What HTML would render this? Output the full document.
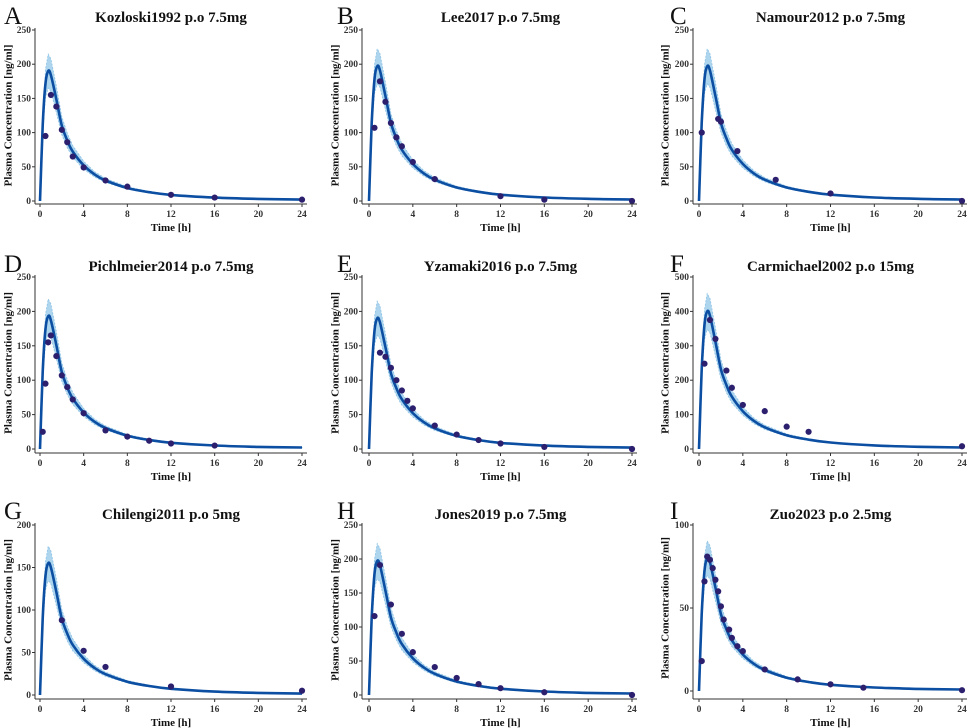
<!DOCTYPE html>
<html><head><meta charset="utf-8"><style>
html,body{margin:0;padding:0;background:#fff;}
svg{display:block;font-family:"Liberation Serif",serif;}
.tk{font-size:9.5px;font-weight:bold;fill:#333;}
.ttl{font-size:15px;font-weight:bold;fill:#111;}
.lab{font-size:11px;font-weight:bold;fill:#111;}
.let{font-size:25px;fill:#111;}
</style></head><body>
<svg id="fig" width="969" height="728" viewBox="0 0 969 728"></svg>
<script>
// ---- data ----
const titles = ["Kozloski1992 p.o 7.5mg","Lee2017 p.o 7.5mg","Namour2012 p.o 7.5mg","Pichlmeier2014 p.o 7.5mg","Yzamaki2016 p.o 7.5mg","Carmichael2002 p.o 15mg","Chilengi2011 p.o 5mg","Jones2019 p.o 7.5mg","Zuo2023 p.o 2.5mg"];
const letters = ["A","B","C","D","E","F","G","H","I"];
const yMaxes = [250,250,250,250,250,500,200,250,100];
const yTickSets = [[0,50,100,150,200,250],[0,50,100,150,200,250],[0,50,100,150,200,250],[0,50,100,150,200,250],[0,50,100,150,200,250],[0,100,200,300,400,500],[0,50,100,150,200],[0,50,100,150,200,250],[0,50,100]];
const xTicks = [0,4,8,12,16,20,24];
const modelTimes = [0,0.25,0.5,0.75,1,1.5,2,2.5,3,4,5,6,8,10,12,16,20,24];
const modelShape = [0,0.58,0.905,1,0.968,0.78,0.58,0.465,0.38,0.275,0.205,0.158,0.1,0.068,0.047,0.026,0.016,0.011];
const peaks = [190,197,197,193,190,400,155,197,80];
const bandFrac = [0,0.10,0.12,0.13,0.13,0.13,0.12,0.12,0.12,0.11,0.1,0.1,0.09,0.09,0.09,0.09,0.09,0.09];
const obsT = [
 [0.5,1,1.5,2,2.5,3,4,6,8,12,16,24],
 [0.5,1,1.5,2,2.5,3,4,6,12,16,24],
 [0.25,1.75,2,3.5,7,12,24],
 [0.25,0.5,0.75,1,1.5,2,2.5,3,4,6,8,10,12,16],
 [1,1.5,2,2.5,3,3.5,4,6,8,10,12,16,24],
 [0.5,1,1.5,2.5,3,4,6,8,10,24],
 [2,4,6,12,24],
 [0.5,1,2,3,4,6,8,10,12,16,24],
 [0.25,0.5,0.75,1,1.25,1.5,1.75,2,2.25,2.75,3,3.5,4,6,9,12,15,24]];
const obsC = [
 [95,155,138,104,86,65,49,30,21,9,5,2],
 [107,175,145,114,93,80,57,32,7,2,0],
 [100,120,116,73,31,11,0],
 [25,95,155,165,135,107,90,72,52,27,18,12,8,5],
 [140,134,118,100,85,70,59,34,21,13,8,3,0],
 [248,375,320,228,178,128,110,65,50,8],
 [88,52,33,10,5],
 [116,191,133,90,63,41,25,16,10,4,0],
 [18,66,81,79,74,67,60,51,43,37,32,27,24,13,7,4,2,0.5]];
// ---- layout ----
const colGeo = [{ax:35,x0:40,x1:302,lx:8,let:4},{ax:362,x0:369,x1:632,lx:335,let:337},{ax:693,x0:699,x1:962,lx:665,let:670}];
const rowGeo = [{top:30,y0:201,line:204,title:22,letY:24},{top:277,y0:449,line:453,title:271,letY:272},{top:525,y0:695,line:699,title:519,letY:519}];
const rowY0Override = {8:691};
const NS="http://www.w3.org/2000/svg";
const svg=document.getElementById('fig');
function mk(tag,attrs,parent){const e=document.createElementNS(NS,tag);for(const k in attrs)e.setAttribute(k,attrs[k]);(parent||svg).appendChild(e);return e;}
for(let p=0;p<9;p++){
  const c=colGeo[p%3], r=rowGeo[Math.floor(p/3)];
  const y0 = rowY0Override[p]!==undefined?rowY0Override[p]:r.y0;
  const g=mk('g',{});
  
  
  const X=t=>c.x0+(c.x1-c.x0)*t/24;
  const Y=v=>y0-(y0-r.top)*v/yMaxes[p];
  const L=mk('text',{x:c.let,y:r.letY,class:'let'},g);L.textContent=letters[p];
  
  const T=mk('text',{x:(c.x0+c.x1)/2,y:r.title,class:'ttl','text-anchor':'middle'},g);T.textContent=titles[p];
  
  let up=[],lo=[];
  for(let i=0;i<modelTimes.length;i++){const m=modelShape[i]*peaks[p];up.push(X(modelTimes[i]).toFixed(1)+','+Y(m*(1+bandFrac[i])).toFixed(1));lo.unshift(X(modelTimes[i]).toFixed(1)+','+Y(m*(1-bandFrac[i])).toFixed(1));}
  const band=mk('polygon',{points:up.concat(lo).join(' '),fill:'#add5ee',stroke:'#8fc3e6','stroke-width':0.8,'stroke-dasharray':'2,1.5'},g);
  
  const pts=modelTimes.map((t,i)=>[X(t),Y(modelShape[i]*peaks[p])]);
  let d='M'+pts[0][0]+','+pts[0][1];
  for(let i=0;i<pts.length-1;i++){const p0=pts[Math.max(i-1,0)],p1=pts[i],p2=pts[i+1],p3=pts[Math.min(i+2,pts.length-1)];
    d+=' C'+(p1[0]+(p2[0]-p0[0])/6).toFixed(1)+','+(p1[1]+(p2[1]-p0[1])/6).toFixed(1)+' '+(p2[0]-(p3[0]-p1[0])/6).toFixed(1)+','+(p2[1]-(p3[1]-p1[1])/6).toFixed(1)+' '+p2[0].toFixed(1)+','+p2[1].toFixed(1);}
  const ml=mk('path',{d:d,fill:'none',stroke:'#0b4ea2','stroke-width':2.6},g);
  
  for(let i=0;i<obsT[p].length;i++){
    const o=mk('circle',{cx:X(obsT[p][i]),cy:Y(obsC[p][i]),r:3.1,fill:'#2b1f6e'},g);
    
  }
  const ya=mk('line',{x1:c.ax,y1:r.top-2,x2:c.ax,y2:r.line,stroke:'#333','stroke-width':1},g);
  
  const xa=mk('line',{x1:c.ax,y1:r.line,x2:c.x1+5,y2:r.line,stroke:'#333','stroke-width':1},g);
  
  yTickSets[p].forEach(v=>{
    mk('line',{x1:c.ax-3,y1:Y(v),x2:c.ax,y2:Y(v),stroke:'#333'},g);
    const t=mk('text',{x:c.ax-4,y:Y(v)+3,class:'tk','text-anchor':'end'},g);t.textContent=v;
    
  });
  xTicks.forEach(v=>{
    mk('line',{x1:X(v),y1:r.line,x2:X(v),y2:r.line+3,stroke:'#333'},g);
    const t=mk('text',{x:X(v),y:r.line+13,class:'tk','text-anchor':'middle'},g);t.textContent=v;
    
  });
  const xl=mk('text',{x:(c.x0+c.x1)/2,y:r.line+27,class:'lab','text-anchor':'middle'},g);xl.textContent='Time [h]';
  
  const cy=(r.top+y0)/2;
  const yl=mk('text',{x:c.lx,y:cy,class:'lab','text-anchor':'middle',transform:'rotate(-90 '+c.lx+' '+cy+')',dy:'3.5'},g);yl.textContent='Plasma Concentration [ng/ml]';
  
}
</script>
</body></html>
